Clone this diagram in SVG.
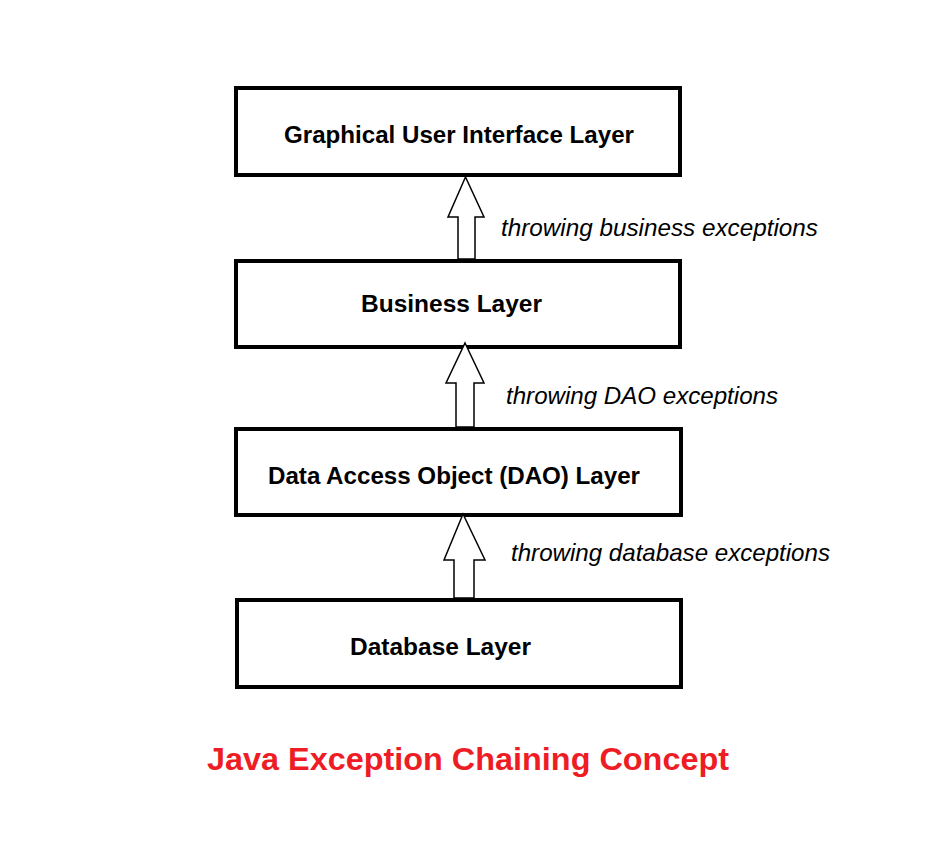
<svg xmlns="http://www.w3.org/2000/svg" width="940" height="842" viewBox="0 0 940 842">
<style>
.box{fill:#fff;stroke:#000;stroke-width:4}
.lbl{font-family:"Liberation Sans",Arial,sans-serif;font-weight:bold;font-size:23px;fill:#000}
.note{font-family:"Liberation Sans",Arial,sans-serif;font-style:italic;font-size:24px;fill:#000}
.arr{fill:#fff;stroke:#000;stroke-width:1.5}
.title{font-family:"Liberation Sans",Arial,sans-serif;font-weight:bold;font-size:31px;fill:#ee1c24}
</style>
<rect width="940" height="842" fill="#fff"/>
<g id="gui"><rect class="box" x="236" y="88" width="444" height="87"/><text class="lbl" x="284" y="143" textLength="350" lengthAdjust="spacingAndGlyphs">Graphical User Interface Layer</text></g>
<g id="business"><rect class="box" x="236" y="261" width="444" height="86"/><text class="lbl" x="361" y="312" textLength="181" lengthAdjust="spacingAndGlyphs">Business Layer</text></g>
<g id="dao"><rect class="box" x="236" y="429" width="445" height="86"/><text class="lbl" x="268" y="484" textLength="372" lengthAdjust="spacingAndGlyphs">Data Access Object (DAO) Layer</text></g>
<g id="database"><rect class="box" x="237" y="600" width="444" height="87"/><text class="lbl" x="350" y="655" textLength="181" lengthAdjust="spacingAndGlyphs">Database Layer</text></g>
<g id="connectors">
<polygon class="arr" points="465.5,177 484,217 475,217 475,259 458,259 458,217 448,217"/>
<polygon class="arr" points="465,343 484,383 474,383 474,427 456,427 456,383 446,383"/>
<polygon class="arr" points="463,514 485,560 474,560 474,598 454,598 454,560 444,560"/>
<text class="note" x="501" y="236" textLength="317" lengthAdjust="spacingAndGlyphs">throwing business exceptions</text>
<text class="note" x="506" y="404" textLength="272" lengthAdjust="spacingAndGlyphs">throwing DAO exceptions</text>
<text class="note" x="511" y="561" textLength="319" lengthAdjust="spacingAndGlyphs">throwing database exceptions</text>
</g>
<text class="title" x="207" y="770" textLength="522" lengthAdjust="spacingAndGlyphs">Java Exception Chaining Concept</text>
</svg>
